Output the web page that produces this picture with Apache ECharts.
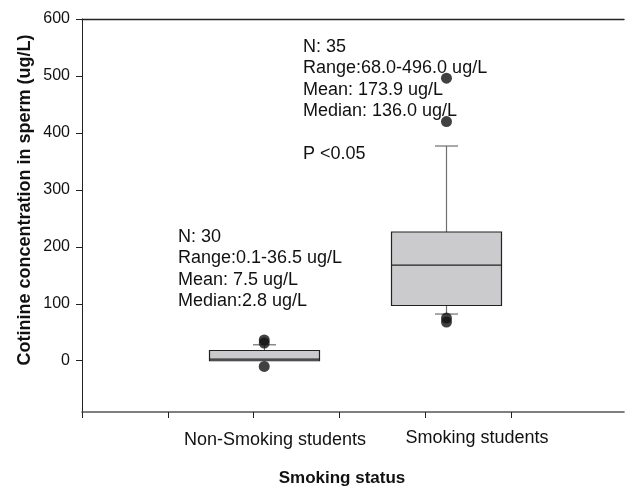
<!DOCTYPE html>
<html>
<head>
<meta charset="utf-8">
<script src="https://cdn.jsdelivr.net/npm/echarts@6/dist/echarts.min.js"></script>
<style>html,body{margin:0;padding:0;background:#fff}#c{width:625px;height:488px}</style>
</head>
<body>
<div id="c"></div>
<script>
// ---- data ----
const categories = ['Non-Smoking students', 'Smoking students'];
const groupX = [2.125, 4.25];
const lowerWhisker = [0, 82];
const q1 = [0, 97];
const median = [2.8, 168];
const q3 = [18, 226];
const upperWhisker = [28, 377];
const outliersNonSmoking = [36.5, 31, -10];
const outliersSmoking = [496, 420, 75, 68];
const yTicks = [0, 100, 200, 300, 400, 500, 600];
const xTicks = [0, 1, 2, 3, 4, 5];
const annotNonSmoking = ['N: 30', 'Range:0.1-36.5 ug/L', 'Mean: 7.5 ug/L', 'Median:2.8 ug/L'];
const annotSmoking = ['N: 35', 'Range:68.0-496.0 ug/L', 'Mean: 173.9 ug/L', 'Median: 136.0 ug/L'];
const pText = 'P <0.05';
const xTitle = 'Smoking status';
const yTitle = 'Cotinine concentration in sperm (ug/L)';

const boxData = categories.map((c, i) => [groupX[i], lowerWhisker[i], q1[i], median[i], q3[i], upperWhisker[i]]);
const outlierData = [];
outliersNonSmoking.forEach(v => outlierData.push([groupX[0], v]));
outliersSmoking.forEach(v => outlierData.push([groupX[1], v]));

const FONT = 'Liberation Sans, Arial, sans-serif';
const chart = echarts.init(document.getElementById('c'), null, {renderer: 'canvas'});

function renderBox(params, api) {
  const x = api.value(0);
  const lw = api.coord([x, api.value(1)]);
  const p1 = api.coord([x, api.value(2)]);
  const pm = api.coord([x, api.value(3)]);
  const p3 = api.coord([x, api.value(4)]);
  const uw = api.coord([x, api.value(5)]);
  const cx = Math.round(p1[0]) + 0.5;
  const halfBox = 55, halfCap = 11.5;
  const children = [];
  const wStyle = {stroke: '#6e6e6e', lineWidth: 1.2};
  if (api.value(5) > api.value(4)) {
    children.push({type: 'line', shape: {x1: cx, y1: p3[1], x2: cx, y2: uw[1]}, style: wStyle});
    children.push({type: 'line', shape: {x1: cx - halfCap, y1: uw[1], x2: cx + halfCap, y2: uw[1]}, style: wStyle});
  }
  if (api.value(1) < api.value(2)) {
    children.push({type: 'line', shape: {x1: cx, y1: p1[1], x2: cx, y2: lw[1]}, style: wStyle});
    children.push({type: 'line', shape: {x1: cx - halfCap, y1: lw[1], x2: cx + halfCap, y2: lw[1]}, style: wStyle});
  }
  children.push({type: 'rect', shape: {x: cx - halfBox, y: p3[1], width: halfBox * 2, height: p1[1] - p3[1]},
    style: {fill: '#cbcbcd', stroke: '#222', lineWidth: 1.2}});
  children.push({type: 'line', shape: {x1: cx - halfBox, y1: pm[1], x2: cx + halfBox, y2: pm[1]},
    style: {stroke: '#222', lineWidth: 1.2}});
  return {type: 'group', children};
}

const TXT = '18px ' + FONT;
function block(lines, left, top) {
  return lines.map((t, i) => ({type: 'text', left: left, top: top + i * 21.5, style: {text: t, fill: '#111', font: TXT}}));
}

const graphics = []
  .concat(block(annotNonSmoking, 178, 228))
  .concat(block(annotSmoking, 303, 38))
  .concat([
    {type: 'text', left: 303, top: 145, style: {text: pText, fill: '#111', font: TXT}},
    {type: 'text', x: 275, y: 440, style: {text: categories[0], fill: '#111', font: TXT, align: 'center', verticalAlign: 'middle'}},
    {type: 'text', x: 477, y: 438, style: {text: categories[1], fill: '#111', font: TXT, align: 'center', verticalAlign: 'middle'}},
    {type: 'text', x: 342, y: 478, style: {text: xTitle, fill: '#111', font: 'bold 17px ' + FONT, align: 'center', verticalAlign: 'middle'}},
    {type: 'text', x: 25, y: 200, rotation: Math.PI / 2, style: {text: yTitle, fill: '#111', font: 'bold 18px ' + FONT, align: 'center', verticalAlign: 'middle'}}
  ]);

chart.setOption({
  animation: false,
  backgroundColor: '#fff',
  grid: {left: 82, right: 1, top: 19, bottom: 76, containLabel: false},
  xAxis: [{
    type: 'value', min: 0, max: 6.32, position: 'bottom',
    axisLine: {show: true, onZero: false, lineStyle: {color: '#555', width: 1.6}},
    axisTick: {show: true, length: 6, customValues: xTicks, lineStyle: {color: '#222', width: 1}},
    axisLabel: {show: false},
    splitLine: {show: false}
  }, {
    type: 'value', min: 0, max: 6.32, position: 'top',
    axisLine: {show: true, onZero: false, lineStyle: {color: '#222', width: 1.4}},
    axisTick: {show: false}, axisLabel: {show: false}, splitLine: {show: false}
  }],
  yAxis: {
    type: 'value', min: -90, max: 600,
    axisLine: {show: true, onZero: false, lineStyle: {color: '#222', width: 1}},
    axisTick: {show: true, length: 6, customValues: yTicks, lineStyle: {color: '#222'}},
    axisLabel: {show: true, customValues: yTicks, margin: 12, color: '#111', fontSize: 16, fontFamily: FONT},
    splitLine: {show: false}
  },
  graphic: graphics,
  series: [{
    type: 'custom', xAxisIndex: 0, renderItem: renderBox, data: boxData,
    encode: {x: 0, y: [1, 2, 3, 4, 5]}, clip: false, silent: true
  }, {
    type: 'scatter', xAxisIndex: 0, data: outlierData, symbol: 'circle', symbolSize: 11,
    itemStyle: {color: '#111'}, silent: true
  }]
});
</script>
</body>
</html>
